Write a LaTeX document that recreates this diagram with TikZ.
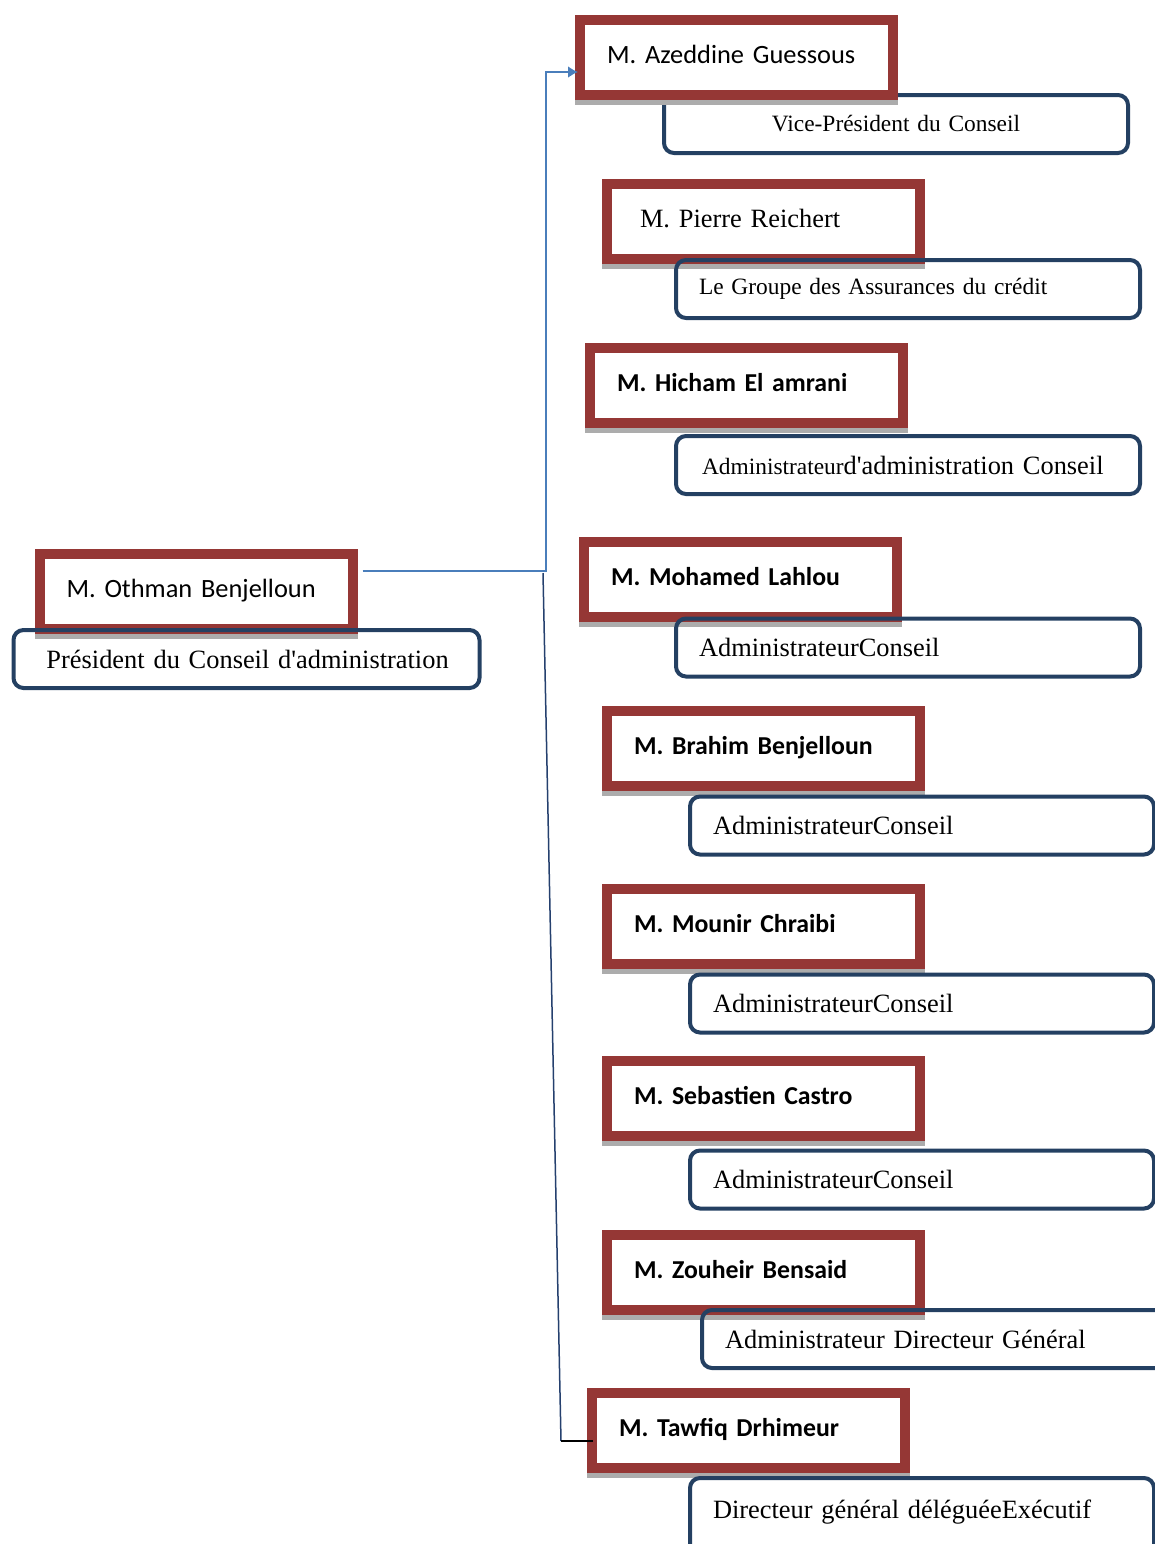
\documentclass[tikz,border=0pt]{standalone}
\usepackage{fontspec}
\setmainfont{Liberation Serif}
\newfontfamily\calibri{Carlito}
\usepackage{tikz}
\usetikzlibrary{positioning}
\usetikzlibrary{arrows.meta}

\definecolor{boxred}{RGB}{149,55,53}
\definecolor{roleblue}{RGB}{36,64,98}
\definecolor{linkblue}{RGB}{74,126,187}
\definecolor{trunkblue}{RGB}{37,64,110}
\definecolor{shadowgray}{RGB}{172,172,172}
\newcommand{\namesize}{\fontsize{13.2}{15}\selectfont}
\newcommand{\boldsize}{\fontsize{12.9}{15}\selectfont}
\newcommand{\rolesize}{\fontsize{13.2}{15}\selectfont}
\newcommand{\smallrole}{\fontsize{11.7}{14}\selectfont}

\begin{document}
\begin{tikzpicture}[x=0.5pt,y=-0.5pt,
	namebox/.style={draw=boxred,line width=5pt,fill=white,minimum height=37.5pt,
		text width=129.5pt,inner xsep=13.5pt,inner ysep=0pt,text height=9pt,text depth=3.5pt,
		align=left,font=\calibri\namesize},
	boldname/.style={namebox,font=\calibri\bfseries\boldsize},
	rolebox/.style={draw=roleblue,line width=2pt,rounded corners=5pt,minimum height=29pt,
		text width=209pt,inner xsep=11.5pt,inner ysep=0pt,align=left,font=\rolesize}]
		\useasboundingbox (0,0) rectangle (1155,1544);
		\clip (0,0) rectangle (1155,1544);
		% first role sits under its name box
		\node[rolebox,align=center,font=\smallrole] (vp) at (896,124) {Vice-Président du Conseil};
		% name boxes
		\node[namebox] (azeddine) at (736.5,57.5) {M. Azeddine Guessous};
		\node[namebox,font=\namesize,inner xsep=16.5pt,text width=123.5pt] (pierre) at (763.5,221.5) {M. Pierre Reichert};
		\node[boldname] (hicham) at (746.5,385.5) {M. Hicham El amrani};
		\node[boldname] (mohamed) at (740.5,579.5) {M. Mohamed Lahlou};
		\node[boldname] (brahim) at (763.5,748.5) {M. Brahim Benjelloun};
		\node[boldname] (mounir) at (763.5,926.5) {M. Mounir Chraibi};
		\node[boldname] (sebastien) at (763.5,1098.5) {M. Sebastien Castro};
		\node[boldname] (zouheir) at (763.5,1272.5) {M. Zouheir Bensaid};
		\node[boldname] (tawfiq) at (748.5,1430.5) {M. Tawfiq Drhimeur};
		\node[namebox] (othman) at (196,591.5) {M. Othman Benjelloun};
		% grey strip under each name box
		\foreach \n in {azeddine,pierre,hicham,mohamed,brahim,mounir,sebastien,zouheir,tawfiq,othman}
		\fill[shadowgray] (\n.south west) rectangle ([yshift=-2.5pt]\n.south east);
		% roles
		\node[rolebox,font=\smallrole] (groupe) at (908,289) {Le Groupe des Assurances du crédit};
		\node[rolebox,inner xsep=13pt,text width=206pt] (admcons) at (908,465) {{\smallrole Administrateur}d\textquotesingle administration Conseil};
		\node[rolebox] (roleml) at (908,647.5) {AdministrateurConseil};
		\node[rolebox] (rolebb) at (922,825.5) {AdministrateurConseil};
		\node[rolebox] (rolemc) at (922,1003.5) {AdministrateurConseil};
		\node[rolebox] (rolesc) at (922,1179.5) {AdministrateurConseil};
		\node[rolebox] (rolezb) at (934,1339) {Administrateur Directeur Général};
		\node[rolebox,anchor=north,minimum height=0pt,inner ysep=8pt,text height=12pt,text depth=40pt] (roletd) at (922,1476) {Directeur général déléguéeExécutif};
		\node[rolebox,inner xsep=16.5pt,text width=200pt] (pca) at (246.5,659) {\mbox{Président du Conseil d\textquotesingle administration}};
		% connectors
		\coordinate (jn) at (546,571);
		\coordinate (jd) at (543,573);
		\coordinate (bend) at (561,1441);
		\draw[linkblue,line width=1pt,-{Latex[length=5pt,width=6pt]},shorten <=2.5pt]
		(othman.east |- jn) -- (jn) |- ([xshift=1.5pt,yshift=-7.25pt]azeddine.west);
		\draw[trunkblue,line width=0.75pt] (jd) -- (bend);
		\draw[black,line width=1.2pt] (bend) -- ([xshift=3pt]bend -| tawfiq.west);
		\end{tikzpicture}
\end{document}
